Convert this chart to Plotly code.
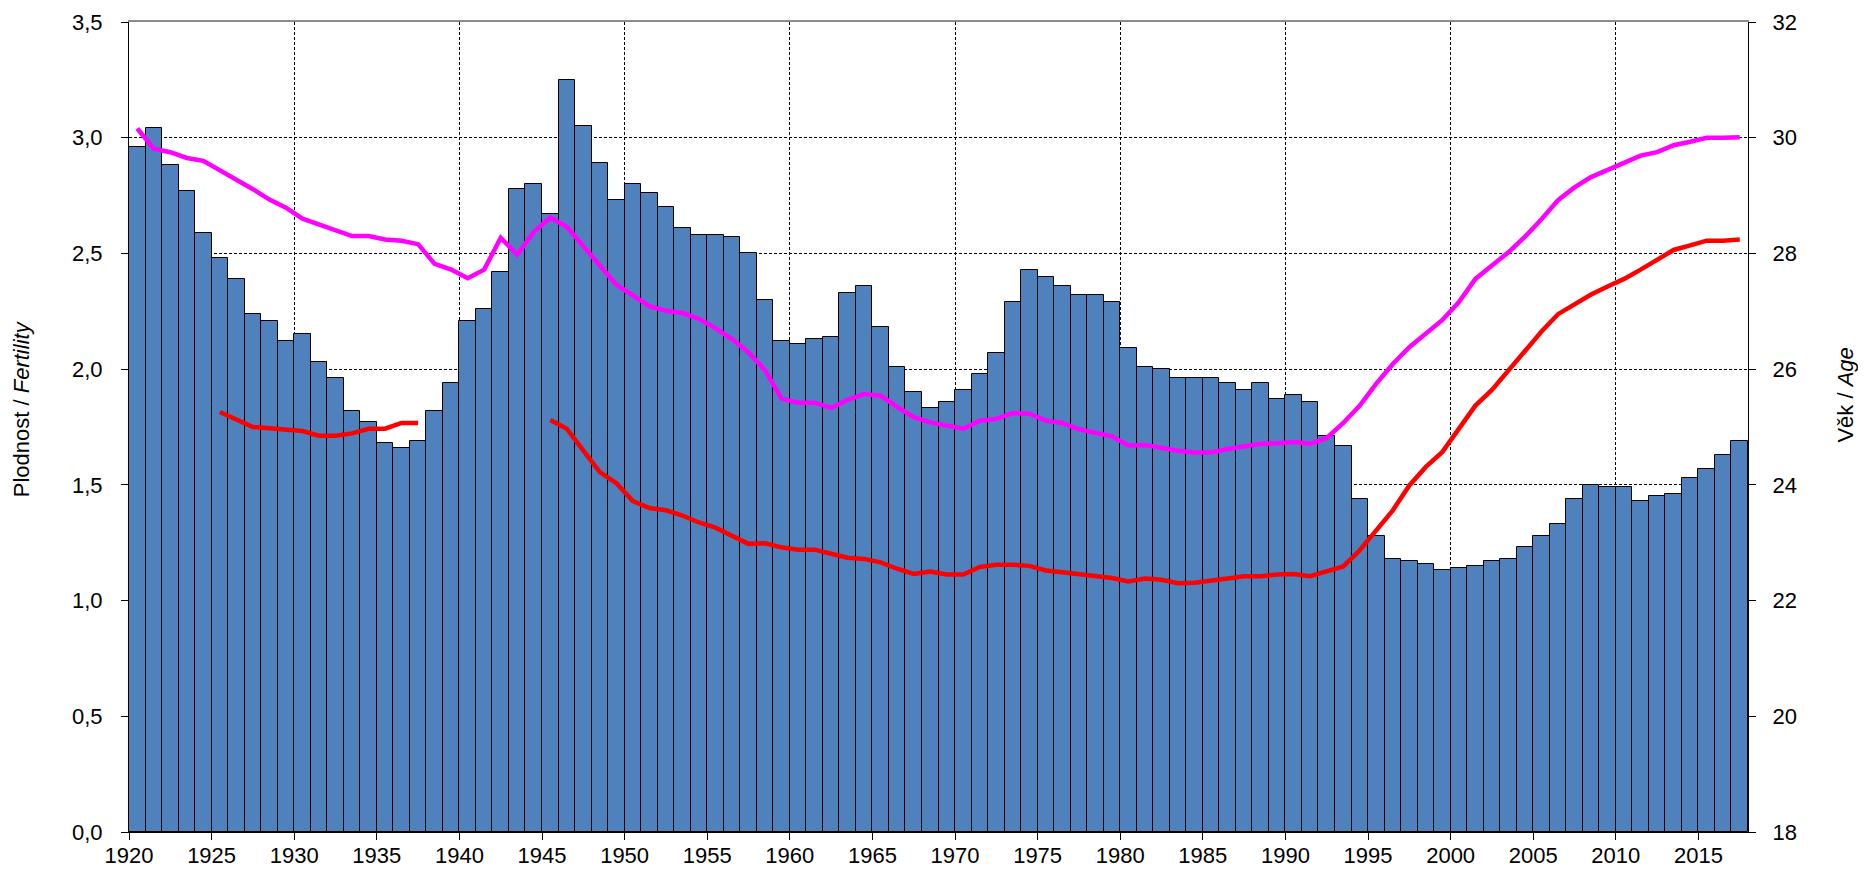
import plotly.graph_objects as go

years = list(range(1920, 2018))

fertility = [
    2.96, 3.04, 2.88, 2.77, 2.59, 2.48, 2.39, 2.24, 2.21, 2.12,  # 1920s
    2.15, 2.03, 1.96, 1.82, 1.77, 1.68, 1.66, 1.69, 1.82, 1.94,  # 1930s
    2.21, 2.26, 2.42, 2.78, 2.80, 2.67, 3.25, 3.05, 2.89, 2.73,  # 1940s
    2.80, 2.76, 2.70, 2.61, 2.58, 2.58, 2.57, 2.50, 2.30, 2.12,  # 1950s
    2.11, 2.13, 2.14, 2.33, 2.36, 2.18, 2.01, 1.90, 1.83, 1.86,  # 1960s
    1.91, 1.98, 2.07, 2.29, 2.43, 2.40, 2.36, 2.32, 2.32, 2.29,  # 1970s
    2.09, 2.01, 2.00, 1.96, 1.96, 1.96, 1.94, 1.91, 1.94, 1.87,  # 1980s
    1.89, 1.86, 1.71, 1.67, 1.44, 1.28, 1.18, 1.17, 1.16, 1.13,  # 1990s
    1.14, 1.15, 1.17, 1.18, 1.23, 1.28, 1.33, 1.44, 1.50, 1.49,  # 2000s
    1.49, 1.43, 1.45, 1.46, 1.53, 1.57, 1.63, 1.69,              # 2010s
]

mean_age_birth = [
    30.16, 29.81, 29.75, 29.65, 29.60, 29.44, 29.29, 29.11, 28.93, 28.79,
    28.60, 28.50, 28.40, 28.30, 28.30, 28.24, 28.22, 28.16, 27.82, 27.72,
    27.57, 27.72, 28.27, 27.98, 28.37, 28.62, 28.46, 28.11, 27.79, 27.46,
    27.28, 27.09, 27.01, 26.97, 26.87, 26.71, 26.52, 26.29, 25.98, 25.49,
    25.42, 25.42, 25.33, 25.47, 25.57, 25.54, 25.35, 25.17, 25.08, 25.03,
    24.97, 25.11, 25.14, 25.24, 25.23, 25.11, 25.07, 24.96, 24.90, 24.84,
    24.68, 24.69, 24.64, 24.59, 24.56, 24.56, 24.62, 24.67, 24.71, 24.72,
    24.74, 24.71, 24.81, 25.07, 25.37, 25.75, 26.09, 26.38, 26.62, 26.85,
    27.16, 27.56, 27.79, 28.02, 28.29, 28.59, 28.92, 29.14, 29.32, 29.44,
    29.58, 29.69, 29.75, 29.87, 29.93, 30.00, 30.00, 30.01,
]

mean_age_first_birth = [
    None, None, None, None, None, 25.26, 25.14, 25.00, 24.98, 24.96,
    24.93, 24.85, 24.85, 24.89, 24.97, 24.97, 25.07, 25.07, None, None,
    None, None, None, None, None, 25.12, 24.97, 24.59, 24.22, 24.03,
    23.72, 23.60, 23.56, 23.47, 23.35, 23.26, 23.11, 22.98, 22.99, 22.92,
    22.88, 22.88, 22.81, 22.74, 22.72, 22.66, 22.55, 22.46, 22.50, 22.45,
    22.45, 22.58, 22.62, 22.62, 22.60, 22.52, 22.49, 22.46, 22.42, 22.39,
    22.33, 22.38, 22.36, 22.30, 22.31, 22.34, 22.38, 22.42, 22.42, 22.45,
    22.46, 22.42, 22.51, 22.59, 22.87, 23.21, 23.56, 23.99, 24.31, 24.57,
    24.97, 25.37, 25.64, 25.97, 26.32, 26.65, 26.95, 27.12, 27.29, 27.43,
    27.56, 27.72, 27.88, 28.06, 28.14, 28.22, 28.22, 28.24,
]

x_tick_years = list(range(1920, 2016, 5))
y_left_ticks = [0.0, 0.5, 1.0, 1.5, 2.0, 2.5, 3.0, 3.5]
y_right_ticks = [18, 20, 22, 24, 26, 28, 30, 32]

FONT = "Liberation Sans, Arial, sans-serif"
FS = 22

# line points sit at the middle of each year's bar
year_centers = [y + 0.5 for y in years]

fig = go.Figure()
fig.add_trace(go.Bar(
    x=years, y=fertility, width=1, offset=0,
    marker=dict(color="#4F81BD", line=dict(color="#000000", width=1)),
    xaxis="x", yaxis="y", showlegend=False,
))
fig.add_trace(go.Scatter(
    x=year_centers, y=mean_age_birth, mode="lines",
    line=dict(color="#FF00FF", width=4.5),
    xaxis="x2", yaxis="y2", showlegend=False,
))
fig.add_trace(go.Scatter(
    x=year_centers, y=mean_age_first_birth, mode="lines",
    line=dict(color="#FF0000", width=4.5),
    xaxis="x2", yaxis="y2", showlegend=False, connectgaps=False,
))

xrange = [years[0], years[-1] + 1]

# the page body adds an 8px offset, so the figure is 8px smaller each way
fig.update_layout(
    template="none",
    width=1858, height=863,
    margin=dict(l=121, r=118, t=14, b=39, pad=0, autoexpand=False),
    paper_bgcolor="white", plot_bgcolor="white",
    separators=", ",
    font=dict(family=FONT, size=FS, color="#000000"),
    bargap=0,
    xaxis=dict(
        range=xrange, tickmode="array", tickvals=x_tick_years,
        ticktext=[str(v) for v in x_tick_years], automargin=False,
        ticks="outside", ticklen=7, tickwidth=1, tickcolor="#000000",
        ticklabelstandoff=-3,
        showline=True, linecolor="#000000", linewidth=1,
        showgrid=False, zeroline=False, tickfont=dict(size=FS),
    ),
    xaxis2=dict(
        range=xrange, overlaying="x", side="top", anchor="y",
        tickmode="linear", tick0=1920, dtick=10, automargin=False,
        showgrid=True, gridcolor="#000000", gridwidth=1, griddash="3px,2px",
        showticklabels=False, ticks="",
        showline=True, linecolor="#8C8C8C", linewidth=2, zeroline=False,
    ),
    yaxis=dict(
        range=[0, 3.5], tickmode="array", tickvals=y_left_ticks,
        tickformat=".1f", automargin=False,
        ticks="outside", ticklen=7, tickwidth=1, tickcolor="#000000",
        ticklabelstandoff=14,
        showline=True, linecolor="#000000", linewidth=1,
        showgrid=True, gridcolor="#000000", gridwidth=1, griddash="3px,2px",
        zeroline=False, tickfont=dict(size=FS),
    ),
    yaxis2=dict(
        range=[18, 32], tickmode="array", tickvals=y_right_ticks,
        overlaying="y", side="right", anchor="x2", automargin=False,
        ticks="outside", ticklen=7, tickwidth=1, tickcolor="#000000",
        ticklabelstandoff=12,
        showline=True, linecolor="#000000", linewidth=1,
        showgrid=False, zeroline=False, tickfont=dict(size=FS),
    ),
    annotations=[
        dict(text="Plodnost / <i>Fertility</i>", textangle=-90,
             xref="paper", yref="paper", x=-0.0667, y=0.522,
             xanchor="center", yanchor="middle", showarrow=False,
             font=dict(size=FS, family=FONT)),
        dict(text="Věk / <i>Age</i>", textangle=-90,
             xref="paper", yref="paper", x=1.0605, y=0.54,
             xanchor="center", yanchor="middle", showarrow=False,
             font=dict(size=FS, family=FONT)),
    ],
)

fig.write_html("out.html")
